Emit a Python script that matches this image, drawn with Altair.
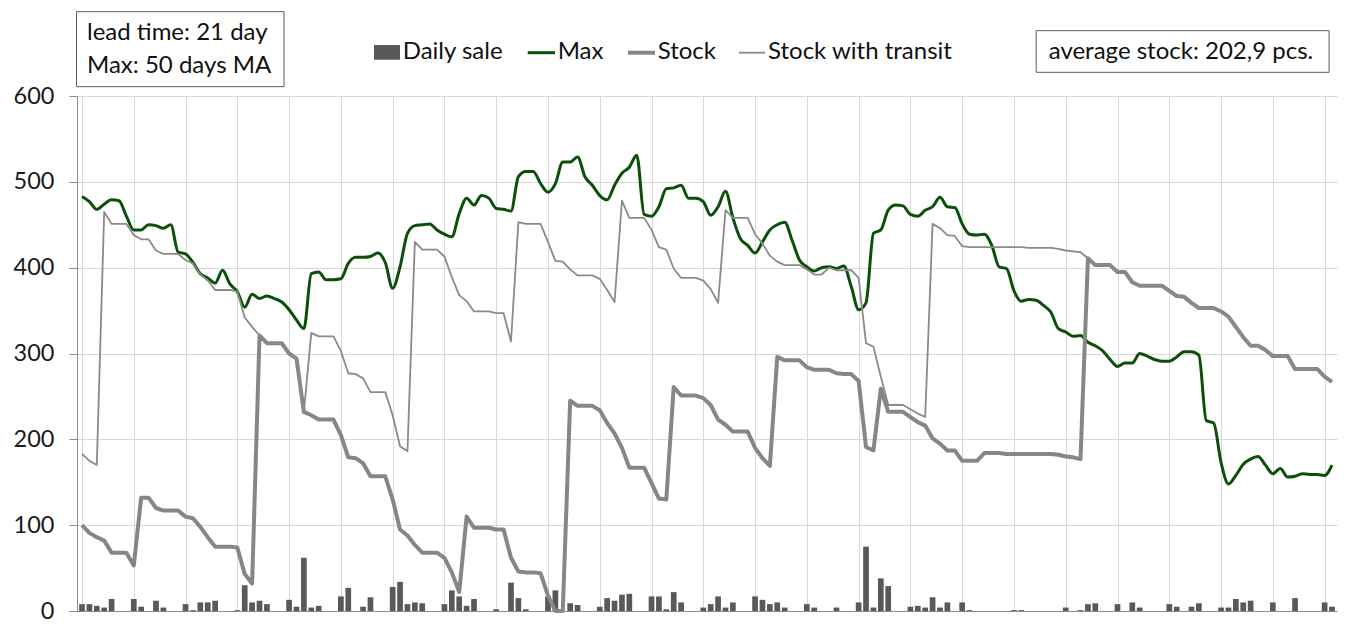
import altair as alt
import pandas as pd

FONT = "Lato"
TXT = 24

series_names = ["Daily sale", "Max", "Stock", "Stock with transit"]
series_colors = ["#595959", "#0b4f0b", "#868686", "#8a8a8a"]
series_widths = [0, 3, 4, 1.8]

days = list(range(170))

daily_sale = [
    8, 8, 6, 4, 14, 0, 0, 14, 5, 0, 12, 4, 0, 0, 8, 1, 10, 10, 12, 0,
    0, 1, 30, 10, 12, 8, 0, 0, 13, 5, 62, 4, 6, 0, 0, 17, 27, 0, 5, 16,
    0, 0, 28, 34, 8, 10, 9, 0, 0, 8, 24, 17, 6, 14, 0, 0, 2, 0, 33, 15,
    2, 0, 0, 17, 24, 0, 9, 7, 0, 0, 5, 15, 12, 19, 20, 0, 0, 17, 17, 2,
    22, 10, 0, 0, 4, 8, 17, 4, 10, 0, 0, 17, 13, 8, 10, 4, 0, 0, 8, 4,
    0, 0, 4, 0, 0, 10, 75, 4, 38, 29, 0, 0, 5, 6, 4, 16, 4, 10, 0, 10,
    1, 0, 0, 0, 0, 0, 1, 1, 0, 0, 0, 0, 0, 4, 0, 1, 8, 9, 0, 0,
    8, 0, 10, 4, 0, 0, 0, 8, 5, 0, 5, 9, 0, 0, 4, 4, 14, 10, 12, 0,
    0, 10, 0, 0, 15, 0, 0, 0, 10, 5,
]

max_line = [
    483, 477, 468, 474, 479, 478, 460, 444, 444, 450, 449, 446, 450, 418, 416, 406, 393, 388, 382, 397,
    381, 372, 354, 369, 364, 367, 364, 360, 351, 339, 329, 393, 395, 386, 386, 387, 405, 412, 412, 413,
    417, 406, 376, 401, 440, 449, 450, 451, 444, 439, 436, 463, 481, 473, 484, 481, 469, 468, 466, 506,
    512, 512, 498, 488, 498, 523, 523, 529, 506, 496, 484, 479, 496, 510, 517, 531, 462, 460, 471, 492,
    493, 496, 481, 481, 477, 461, 471, 489, 458, 434, 426, 417, 430, 444, 450, 453, 432, 409, 401, 396,
    400, 401, 399, 402, 378, 351, 359, 440, 444, 467, 473, 472, 462, 460, 467, 471, 482, 471, 470, 451,
    439, 438, 439, 426, 401, 399, 373, 361, 363, 362, 356, 348, 329, 325, 320, 321, 313, 309, 303, 293,
    285, 289, 289, 300, 297, 293, 291, 291, 296, 302, 302, 298, 222, 219, 173, 148, 158, 171, 177, 180,
    170, 160, 166, 156, 157, 160, 159, 159, 158, 170,
]

stock = [
    100, 91, 86, 82, 68, 68, 68, 53, 132, 132, 120, 117, 117, 117, 110, 108, 98, 86, 75, 75,
    75, 74, 43, 32, 321, 312, 312, 312, 300, 294, 232, 228, 223, 223, 223, 205, 179, 178, 172, 157,
    157, 157, 130, 95, 88, 77, 68, 68, 68, 62, 45, 22, 110, 97, 97, 97, 95, 95, 62, 46,
    45, 45, 44, 18, 0, 0, 245, 239, 239, 239, 234, 219, 207, 190, 167, 167, 167, 149, 131, 130,
    261, 251, 251, 251, 248, 240, 223, 217, 209, 209, 209, 190, 178, 169, 296, 292, 292, 292, 284, 281,
    281, 281, 277, 276, 276, 268, 191, 187, 259, 232, 232, 232, 226, 220, 216, 201, 195, 187, 187, 175,
    175, 175, 184, 184, 184, 183, 183, 183, 183, 183, 183, 183, 182, 180, 179, 177, 411, 403, 403, 403,
    395, 395, 383, 379, 379, 379, 379, 373, 367, 366, 359, 353, 353, 353, 349, 343, 331, 319, 309, 309,
    304, 297, 297, 297, 282, 282, 282, 282, 273, 267,
]

stock_transit = [
    183, 175, 170, 465, 451, 451, 451, 438, 433, 433, 420, 416, 416, 416, 409, 405, 392, 385, 374, 374,
    374, 372, 342, 331, 321, 312, 312, 312, 300, 294, 232, 324, 320, 320, 320, 303, 277, 276, 271, 255,
    255, 255, 228, 192, 186, 430, 421, 421, 421, 413, 389, 368, 361, 349, 349, 349, 347, 347, 314, 453,
    451, 451, 451, 430, 408, 407, 398, 391, 391, 391, 387, 374, 360, 478, 458, 458, 458, 444, 424, 421,
    399, 388, 388, 388, 385, 375, 359, 467, 458, 458, 458, 439, 428, 414, 407, 403, 403, 403, 398, 392,
    392, 400, 397, 397, 397, 388, 312, 308, 273, 240, 240, 240, 235, 230, 226, 451, 446, 438, 437, 425,
    424, 424, 424, 424, 424, 424, 424, 424, 423, 423, 423, 423, 422, 420, 419, 418, 411, 403, 403, 403,
    395, 395, 383, 379, 379, 379, 379, 373, 367, 366, 359, 353, 353, 353, 349, 343, 331, 319, 309, 309,
    304, 297, 297, 297, 282, 282, 282, 282, 273, 267,
]

y_ticks = [0, 100, 200, 300, 400, 500, 600]
x_grid = list(range(0, 169, 7))

note_left = ["lead time: 21 day", "Max: 50 days MA"]
note_right = "average stock: 202,9 pcs."

df_bar = pd.DataFrame({"day": days, "value": daily_sale})
df_max = pd.DataFrame({"day": days, "value": max_line})
df_stock = pd.DataFrame({"day": days, "value": stock})
df_transit = pd.DataFrame({"day": days, "value": stock_transit})
one = pd.DataFrame({"a": [0]})

x_scale = alt.Scale(domain=[0, 169], nice=False, zero=False)
y_scale = alt.Scale(domain=[0, 600], nice=False)

x_axis = alt.Axis(values=x_grid, labels=False, ticks=False, title=None, grid=True,
                  gridColor="#d9d9d9", gridWidth=1, domainColor="#8c8c8c", domainWidth=1)
y_axis = alt.Axis(values=y_ticks, title=None, grid=True, gridColor="#d9d9d9", gridWidth=1,
                  domainColor="#8c8c8c", tickColor="#8c8c8c", tickSize=8, labelFont=FONT,
                  labelFontSize=23.5, labelColor="#1a1a1a", labelPadding=15)

bars = alt.Chart(df_bar).mark_bar(size=5.7, clip=True, color=series_colors[0]).encode(
    x=alt.X("day:Q", scale=x_scale, axis=x_axis),
    y=alt.Y("value:Q", scale=y_scale, axis=y_axis),
)

line_max = alt.Chart(df_max).mark_line(color=series_colors[1], strokeWidth=series_widths[1],
                                       interpolate="monotone").encode(
    x=alt.X("day:Q", scale=x_scale), y=alt.Y("value:Q", scale=y_scale))
line_stock = alt.Chart(df_stock).mark_line(color=series_colors[2], strokeWidth=series_widths[2],
                                           strokeJoin="round").encode(
    x=alt.X("day:Q", scale=x_scale), y=alt.Y("value:Q", scale=y_scale))
line_transit = alt.Chart(df_transit).mark_line(color=series_colors[3], strokeWidth=series_widths[3],
                                               strokeJoin="round").encode(
    x=alt.X("day:Q", scale=x_scale), y=alt.Y("value:Q", scale=y_scale))

# legend (drawn by hand, above the plot)
leg_y = -43.3
leg_text_y = -36.7
legend_layers = [
    alt.Chart(one).mark_rect(color=series_colors[0]).encode(
        x=alt.value(297), x2=alt.value(323), y=alt.value(-51), y2=alt.value(-36.3)),
]
stroke_x = [(450.7, 478), (551, 578), (662, 688)]
for i, (xa, xb) in enumerate(stroke_x, start=1):
    legend_layers.append(alt.Chart(one).mark_rule(color=series_colors[i], strokeWidth=series_widths[i]).encode(
        x=alt.value(xa), x2=alt.value(xb), y=alt.value(leg_y)))
text_x = [325.7, 480.7, 580.7, 691]
for i, tx in enumerate(text_x):
    legend_layers.append(alt.Chart(one).mark_text(
        align="left", baseline="alphabetic", font=FONT, fontSize=TXT, color="#111111").encode(
        x=alt.value(tx), y=alt.value(leg_text_y), text=alt.value(series_names[i])))

box_left = alt.Chart(one).mark_rect(fill="white", stroke="#595959", strokeWidth=1).encode(
    x=alt.value(-0.5), x2=alt.value(207), y=alt.value(-84.3), y2=alt.value(-9.3))
text_l1 = alt.Chart(one).mark_text(
    align="left", baseline="alphabetic", font=FONT, fontSize=TXT, color="#111111").encode(
    x=alt.value(10), y=alt.value(-56), text=alt.value(note_left[0]))
text_l2 = alt.Chart(one).mark_text(
    align="left", baseline="alphabetic", font=FONT, fontSize=TXT, color="#111111").encode(
    x=alt.value(10), y=alt.value(-22.7), text=alt.value(note_left[1]))

box_right = alt.Chart(one).mark_rect(fill="white", stroke="#595959", strokeWidth=1).encode(
    x=alt.value(959.2), x2=alt.value(1252.1), y=alt.value(-65.3), y2=alt.value(-23.7))
text_r = alt.Chart(one).mark_text(
    align="center", baseline="middle", font=FONT, fontSize=TXT, color="#111111").encode(
    x=alt.value(1104), y=alt.value(-44.5), text=alt.value(note_right))

chart = alt.layer(
    bars, line_max, line_stock, line_transit,
    *legend_layers,
    box_left, text_l1, text_l2, box_right, text_r,
).properties(
    width=1260, height=515,
    padding={"left": 77, "top": 96, "right": 15, "bottom": 18},
    autosize=alt.AutoSizeParams(type="none"),
    background="white",
).configure_view(stroke=None)

chart.save("out.html", embed_options={"renderer": "svg", "actions": False})
